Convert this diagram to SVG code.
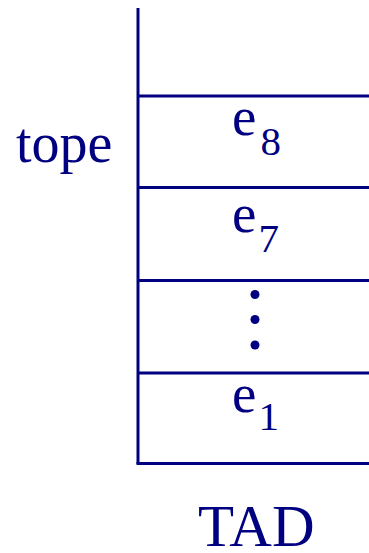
<svg xmlns="http://www.w3.org/2000/svg" width="369" height="553" viewBox="0 0 369 553">
  <style>
    .ln { stroke: #000080; stroke-width: 3; fill: none; }
    .tx { fill: #000080; }
    .dot { fill: #000080; }
  </style>
  <rect width="369" height="553" fill="#ffffff"/>

  <!-- stack frame -->
  <g id="stack">
    <line class="ln" x1="138" y1="8" x2="138" y2="464"/>
    <line class="ln" x1="138" y1="96" x2="369" y2="96"/>
    <line class="ln" x1="138" y1="187.5" x2="369" y2="187.5"/>
    <line class="ln" x1="138" y1="280.5" x2="369" y2="280.5"/>
    <line class="ln" x1="138" y1="373" x2="369" y2="373"/>
    <line class="ln" x1="136.5" y1="463.5" x2="369" y2="463.5"/>
  </g>

  <!-- stack cells -->
  <g id="cell-e8">
    <text class="tx" font-family="Liberation Serif, serif" font-size="55" x="232" y="135">e<tspan font-size="41" dx="4" dy="20">8</tspan></text>
  </g>
  <g id="cell-e7">
    <text class="tx" font-family="Liberation Serif, serif" font-size="55" x="232" y="232">e<tspan font-size="41" dx="2" dy="20">7</tspan></text>
  </g>
  <g id="cell-dots">
    <circle class="dot" cx="255" cy="294.5" r="4.5"/>
    <circle class="dot" cx="255" cy="319.5" r="4.5"/>
    <circle class="dot" cx="255" cy="345" r="4.5"/>
  </g>
  <g id="cell-e1">
    <text class="tx" font-family="Liberation Serif, serif" font-size="55" x="232" y="412">e<tspan font-size="41" dx="2" dy="18">1</tspan></text>
  </g>

  <!-- labels -->
  <g id="label-tope">
    <text class="tx" font-family="Liberation Serif, serif" font-size="56" x="16" y="162">tope</text>
  </g>
  <g id="label-tad">
    <text class="tx" font-family="Liberation Serif, serif" font-size="59" x="198" y="546">TAD</text>
  </g>
</svg>
